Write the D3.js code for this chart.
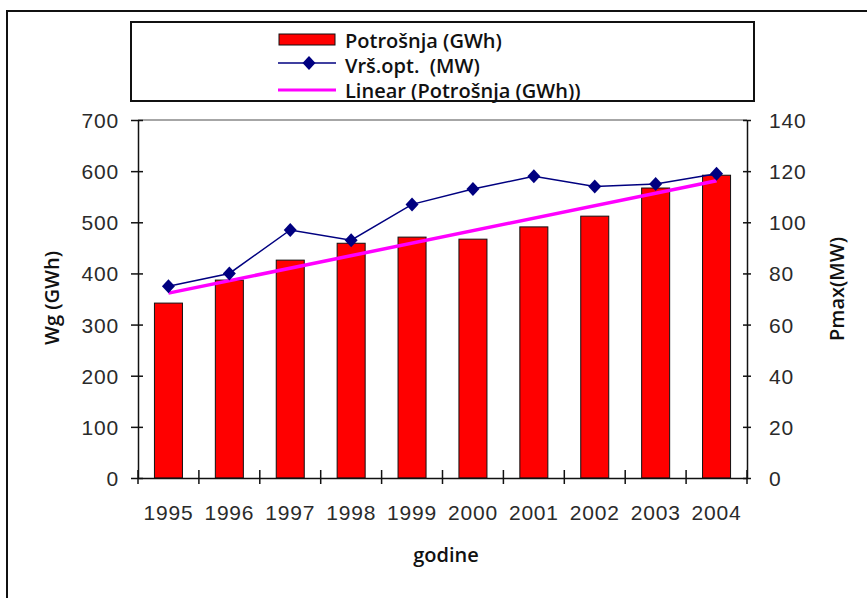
<!DOCTYPE html>
<html>
<head>
<meta charset="utf-8">
<script src="https://cdn.jsdelivr.net/npm/d3@7"></script>
<style>
  html, body { margin: 0; padding: 0; background: #fff; }
  svg { display: block; }
  .tick text { font-family: "Liberation Sans", Arial, sans-serif; font-size: 21px; letter-spacing: 0.8px; fill: #2a2a2a; }
  .ttl { font-family: "Open Sans", sans-serif; font-size: 20px; font-weight: 600; fill: #111; }
  .leg { font-family: "Open Sans", sans-serif; font-size: 20px; font-weight: 600; fill: #111; }
</style>
</head>
<body>
<script>
// ---- data ----
const years = ["1995","1996","1997","1998","1999","2000","2001","2002","2003","2004"];
const potrosnja = [342, 387, 426, 459, 471, 467, 491, 512, 567, 592];   // GWh (left axis)
const vrsOpt    = [75, 80, 97, 93, 107, 113, 118, 114, 115, 119];       // MW (right axis)
const leftTicks  = [0, 100, 200, 300, 400, 500, 600, 700];
const rightTicks = [0, 20, 40, 60, 80, 100, 120, 140];
const legendLabels = ["Potrošnja (GWh)", "Vrš.opt.  (MW)", "Linear (Potrošnja (GWh))"];

// ---- layout ----
const W = 867, H = 598;
const plot = { left: 138, right: 747, top: 120, bottom: 478 };

const svg = d3.select("body").append("svg").attr("width", W).attr("height", H);

// outer frame (extends beyond bottom/right of picture)
svg.append("rect").attr("x", 7).attr("y", 11).attr("width", 900).attr("height", 700)
  .attr("fill", "none").attr("stroke", "#111").attr("stroke-width", 2);

const x = d3.scaleBand().domain(years).range([plot.left, plot.right])
  .paddingInner(0.54).paddingOuter(0.27);
const yL = d3.scaleLinear().domain([0, 700]).range([plot.bottom, plot.top]);
const yR = d3.scaleLinear().domain([0, 140]).range([plot.bottom, plot.top]);
const cx = d => x(d) + x.bandwidth() / 2;

// plot area top border
svg.append("line").attr("x1", plot.left).attr("x2", plot.right)
  .attr("y1", plot.top).attr("y2", plot.top).attr("stroke", "#888").attr("stroke-width", 1.5);

// bars
svg.append("g").selectAll("rect").data(years).join("rect")
  .attr("x", d => x(d)).attr("width", x.bandwidth())
  .attr("y", (d, i) => yL(potrosnja[i]))
  .attr("height", (d, i) => yL(0) - yL(potrosnja[i]))
  .attr("fill", "#ff0000").attr("stroke", "#111").attr("stroke-width", 1);

// linear trend of potrosnja
const n = years.length;
const xs = d3.range(n);
const mx = d3.mean(xs), my = d3.mean(potrosnja);
const slope = d3.sum(xs, i => (i - mx) * (potrosnja[i] - my)) / d3.sum(xs, i => (i - mx) ** 2);
const icpt = my - slope * mx;
svg.append("line")
  .attr("x1", cx(years[0])).attr("y1", yL(icpt))
  .attr("x2", cx(years[n - 1])).attr("y2", yL(icpt + slope * (n - 1)))
  .attr("stroke", "#ff00ff").attr("stroke-width", 3.5);

// Vrs.opt line
svg.append("path").datum(vrsOpt)
  .attr("d", d3.line().x((d, i) => cx(years[i])).y(d => yR(d)))
  .attr("fill", "none").attr("stroke", "#000080").attr("stroke-width", 1.5);
const diamond = "M0,-7L6.5,0L0,7L-6.5,0Z";
svg.append("g").selectAll("path").data(vrsOpt).join("path")
  .attr("transform", (d, i) => `translate(${cx(years[i])},${yR(d)})`)
  .attr("d", diamond).attr("fill", "#000080");

// axes
function styleAxis(g) {
  g.selectAll(".domain").attr("stroke", "#111").attr("stroke-width", 1.5);
  g.selectAll(".tick line").attr("stroke", "#111").attr("stroke-width", 1.5);
}
const gL = svg.append("g").attr("transform", `translate(${plot.left},0)`)
  .call(d3.axisLeft(yL).tickValues(leftTicks).tickSizeOuter(0).tickSizeInner(7).tickPadding(12));
gL.selectAll(".tick line").attr("x2", -7).attr("x1", 5);
styleAxis(gL);
gL.selectAll(".tick text").attr("dy", "0.36em");

const gR = svg.append("g").attr("transform", `translate(${plot.right},0)`)
  .call(d3.axisRight(yR).tickValues(rightTicks).tickSizeOuter(0).tickSizeInner(4).tickPadding(18));
gR.selectAll(".tick line").attr("x1", -4).attr("x2", 4);
styleAxis(gR);
gR.selectAll(".tick text").attr("dy", "0.36em");

// x axis: ticks at category boundaries
const gX = svg.append("g").attr("transform", `translate(0,${plot.bottom})`)
  .call(d3.axisBottom(x).tickSize(0).tickSizeOuter(0).tickPadding(42));
styleAxis(gX);
gX.selectAll(".tick text").attr("dy", "0");
const step = x.step();
gX.append("g").selectAll("line").data(d3.range(n + 1)).join("line")
  .attr("x1", i => plot.left + i * step).attr("x2", i => plot.left + i * step)
  .attr("y1", -8).attr("y2", 6).attr("stroke", "#111").attr("stroke-width", 1.5);

// axis titles
svg.append("text").attr("class", "ttl").attr("text-anchor", "middle")
  .attr("x", 446).attr("y", 562).text("godine");
svg.append("text").attr("class", "ttl").attr("text-anchor", "middle")
  .attr("transform", "translate(59,298) rotate(-90)").text("Wg (GWh)");
svg.append("text").attr("class", "ttl").attr("text-anchor", "middle")
  .attr("transform", "translate(844,289) rotate(-90)").text("Pmax(MW)");

// legend
const lg = svg.append("g");
lg.append("rect").attr("x", 131).attr("y", 22).attr("width", 623).attr("height", 79)
  .attr("fill", "#fff").attr("stroke", "#111").attr("stroke-width", 2);
const rows = [48, 73, 98];
lg.append("rect").attr("x", 279).attr("y", 34).attr("width", 56).attr("height", 11)
  .attr("fill", "#ff0000").attr("stroke", "#111").attr("stroke-width", 1);
lg.append("line").attr("x1", 278).attr("x2", 336).attr("y1", 63).attr("y2", 63)
  .attr("stroke", "#000080").attr("stroke-width", 1.5);
lg.append("path").attr("transform", "translate(309,63)").attr("d", diamond).attr("fill", "#000080");
lg.append("line").attr("x1", 278).attr("x2", 336).attr("y1", 90).attr("y2", 90)
  .attr("stroke", "#ff00ff").attr("stroke-width", 3);
lg.selectAll("text.leg").data(legendLabels).join("text").attr("class", "leg")
  .attr("x", 345).attr("y", (d, i) => rows[i]).attr("xml:space", "preserve").text(d => d);
</script>
</body>
</html>
